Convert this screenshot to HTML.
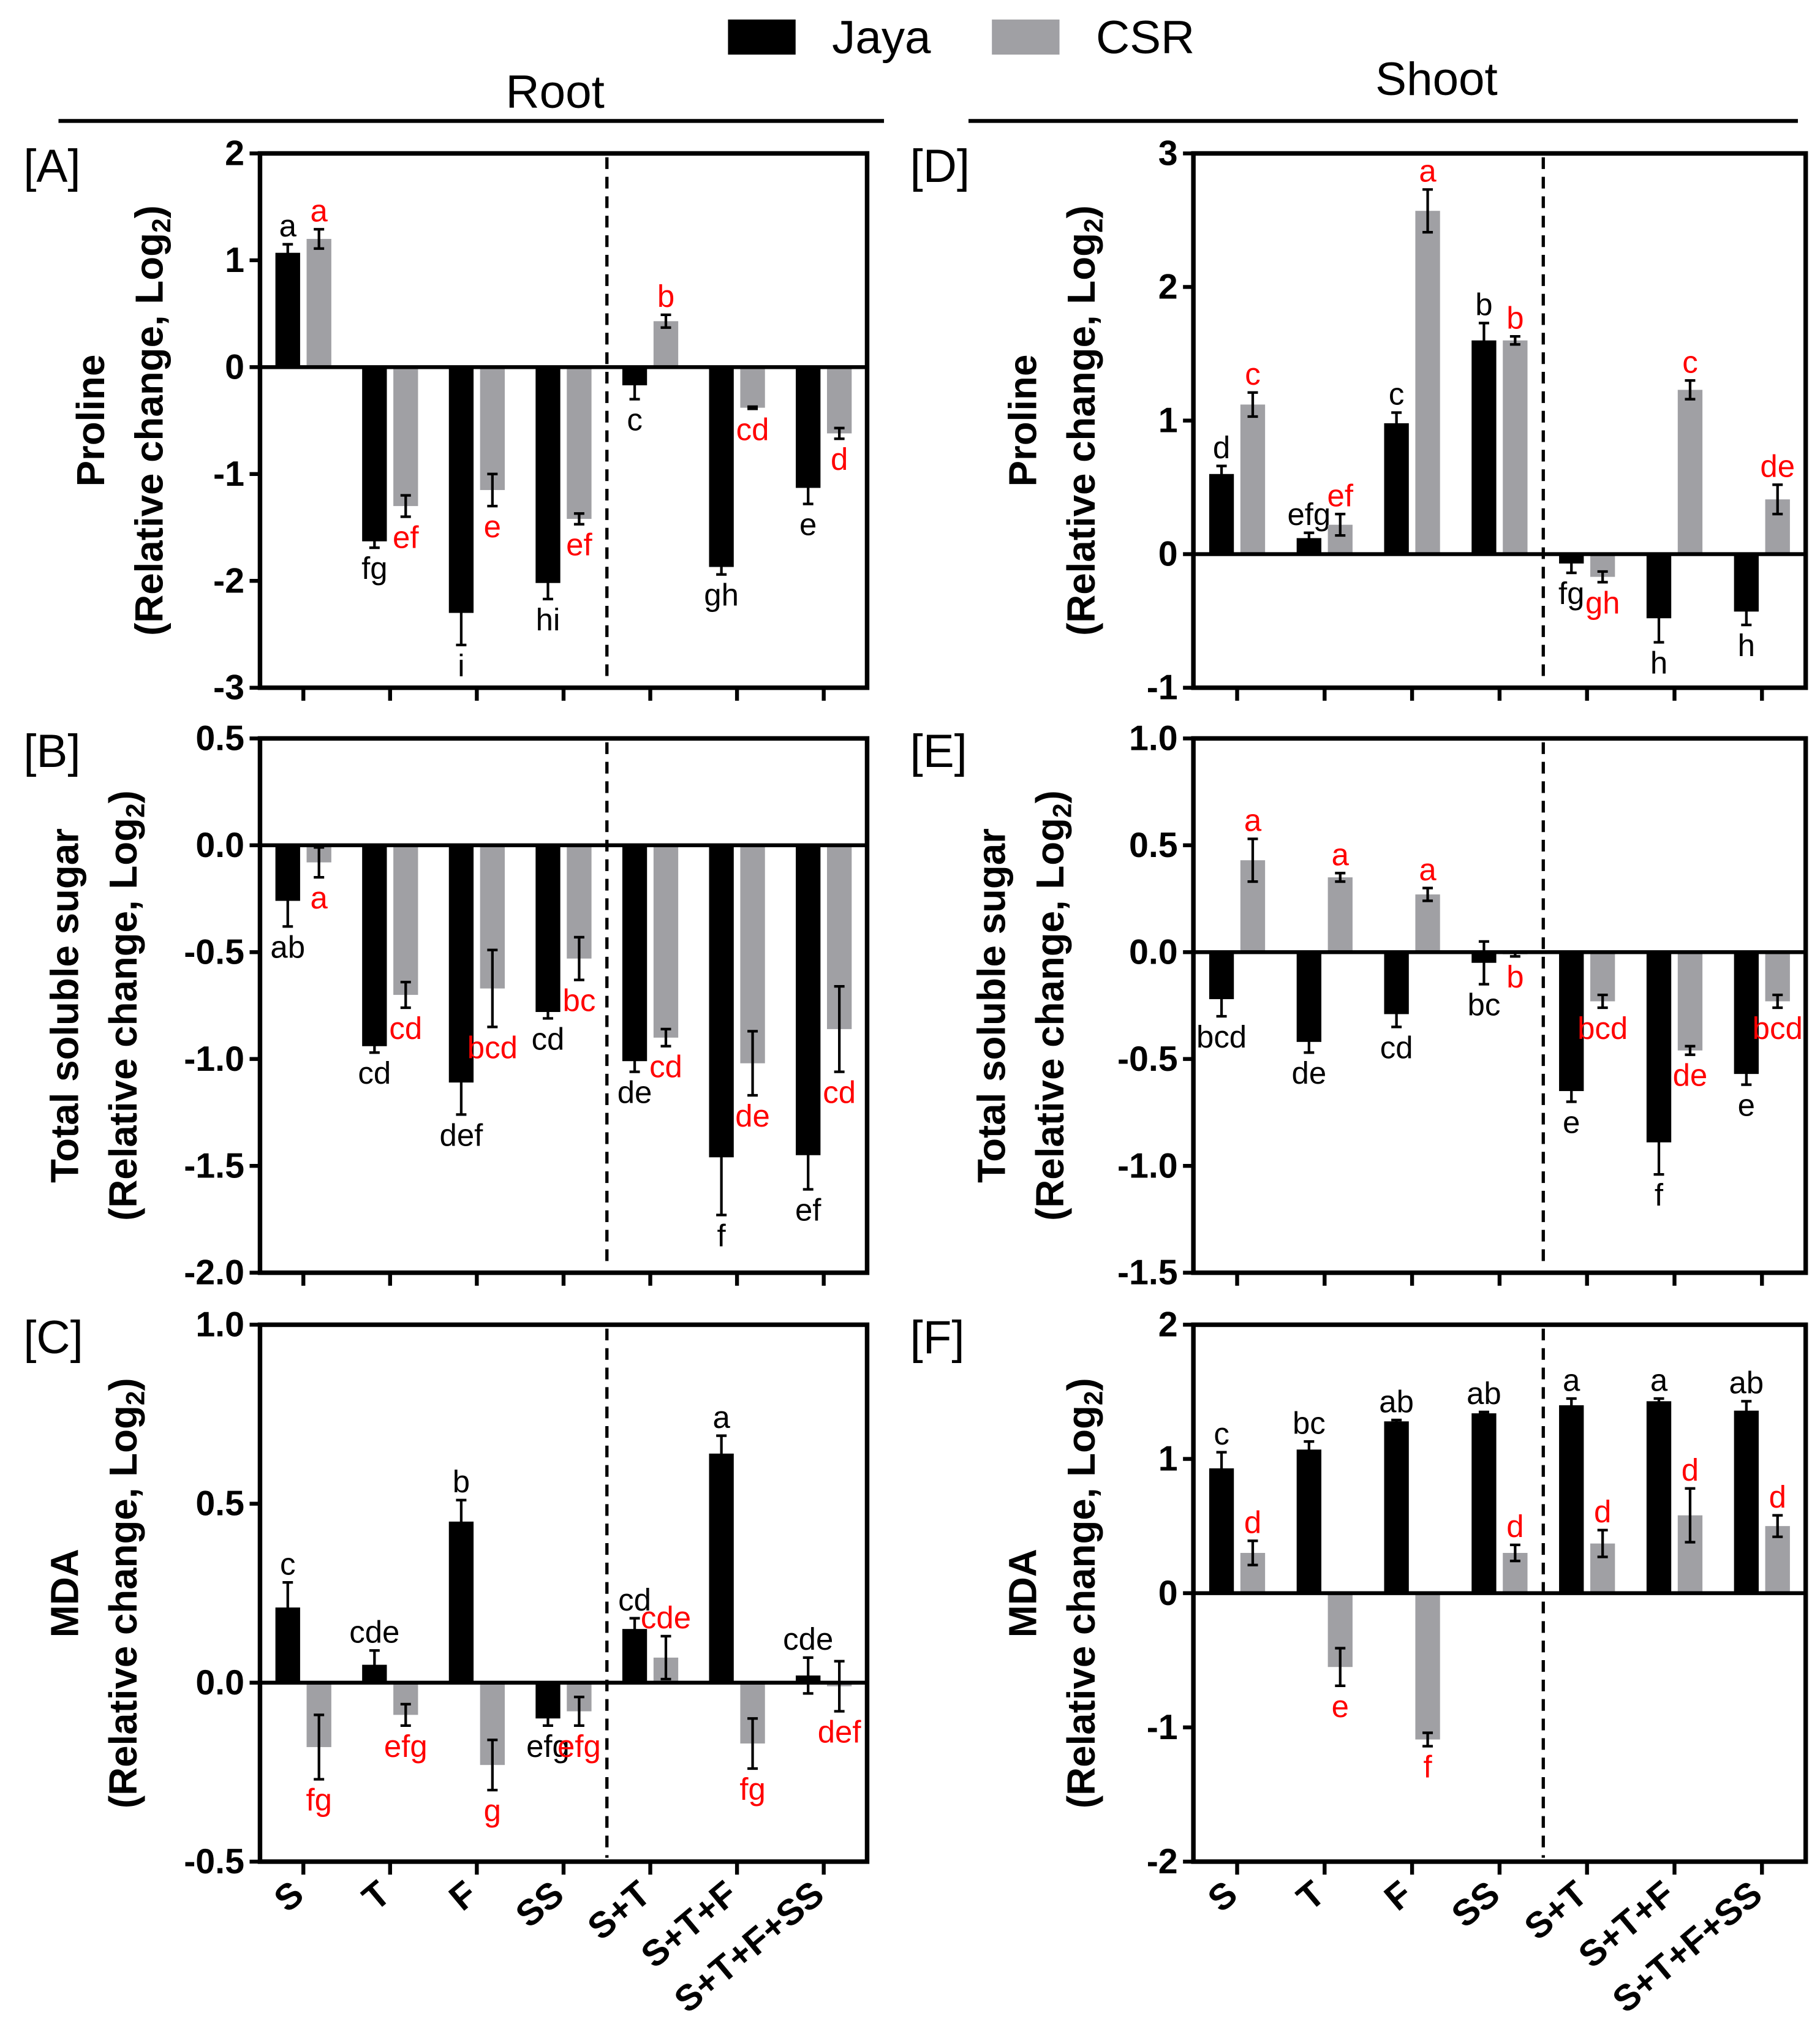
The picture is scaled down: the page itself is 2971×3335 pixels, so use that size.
<!DOCTYPE html>
<html><head><meta charset="utf-8"><style>
html,body{margin:0;padding:0;background:#fff;}
svg{display:block;}
text{font-family:"Liberation Sans",Arial,sans-serif;}
</style></head><body>
<svg id="chart" width="2971" height="3335" viewBox="0 0 1400 1571.5" xmlns="http://www.w3.org/2000/svg">
<g>
<rect x="560" y="15" width="52" height="27" fill="#000"/>
<text x="640" y="41" font-size="36">Jaya</text>
<rect x="763" y="15" width="52" height="27" fill="#a0a0a4"/>
<text x="843" y="41" font-size="36">CSR</text>
</g>
<text x="427" y="83" font-size="36" text-anchor="middle">Root</text>
<line x1="45" y1="93" x2="680" y2="93" stroke="#000" stroke-width="3"/>
<text x="1105" y="73" font-size="36" text-anchor="middle">Shoot</text>
<line x1="745" y1="93" x2="1383" y2="93" stroke="#000" stroke-width="3"/>
</svg>
<script>
const categories=["S","T","F","SS","S+T","S+T+F","S+T+F+SS"];
// Panel A - Root proline
const aJaya=[1.07,-1.63,-2.3,-2.02,-0.17,-1.87,-1.13];
const aJayaErr=[0.08,0.06,0.3,0.15,0.13,0.07,0.15];
const aCsr=[1.2,-1.3,-1.15,-1.42,0.43,-0.38,-0.62];
const aCsrErr=[0.09,0.1,0.15,0.05,0.06,0.01,0.05];
const aJayaLbl=["a","fg","i","hi","c","gh","e"];
const aCsrLbl=["a","ef","e","ef","b","cd","d"];
const aTicks=[2,1,0,-1,-2,-3];
const aTickLbl=["2","1","0","-1","-2","-3"];
// Panel B - Root sugar
const bJaya=[-0.26,-0.94,-1.11,-0.78,-1.01,-1.46,-1.45];
const bJayaErr=[0.12,0.03,0.15,0.03,0.05,0.27,0.16];
const bCsr=[-0.08,-0.7,-0.67,-0.53,-0.9,-1.02,-0.86];
const bCsrErr=[0.07,0.06,0.18,0.1,0.04,0.15,0.2];
const bJayaLbl=["ab","cd","def","cd","de","f","ef"];
const bCsrLbl=["a","cd","bcd","bc","cd","de","cd"];
const bTicks=[0.5,0,-0.5,-1,-1.5,-2];
const bTickLbl=["0.5","0.0","-0.5","-1.0","-1.5","-2.0"];
// Panel C - Root MDA
const cJaya=[0.21,0.05,0.45,-0.1,0.15,0.64,0.02];
const cJayaErr=[0.07,0.04,0.06,0.02,0.03,0.05,0.05];
const cCsr=[-0.18,-0.09,-0.23,-0.08,0.07,-0.17,-0.01];
const cCsrErr=[0.09,0.03,0.07,0.04,0.06,0.07,0.07];
const cJayaLbl=["c","cde","b","efg","cd","a","cde"];
const cCsrLbl=["fg","efg","g","efg","cde","fg","def"];
const cTicks=[1,0.5,0,-0.5];
const cTickLbl=["1.0","0.5","0.0","-0.5"];
// Panel D - Shoot proline
const dJaya=[0.6,0.12,0.98,1.6,-0.07,-0.48,-0.43];
const dJayaErr=[0.06,0.04,0.08,0.13,0.07,0.18,0.1];
const dCsr=[1.12,0.22,2.57,1.6,-0.17,1.23,0.41];
const dCsrErr=[0.09,0.08,0.16,0.03,0.04,0.07,0.11];
const dJayaLbl=["d","efg","c","b","fg","h","h"];
const dCsrLbl=["c","ef","a","b","gh","c","de"];
const dTicks=[3,2,1,0,-1];
const dTickLbl=["3","2","1","0","-1"];
// Panel E - Shoot sugar
const eJaya=[-0.22,-0.42,-0.29,-0.05,-0.65,-0.89,-0.57];
const eJayaErr=[0.08,0.05,0.06,0.1,0.05,0.15,0.05];
const eCsr=[0.43,0.35,0.27,-0.01,-0.23,-0.46,-0.23];
const eCsrErr=[0.1,0.02,0.03,0.01,0.03,0.02,0.03];
const eJayaLbl=["bcd","de","cd","bc","e","f","e"];
const eCsrLbl=["a","a","a","b","bcd","de","bcd"];
const eTicks=[1,0.5,0,-0.5,-1,-1.5];
const eTickLbl=["1.0","0.5","0.0","-0.5","-1.0","-1.5"];
// Panel F - Shoot MDA
const fJaya=[0.93,1.07,1.28,1.34,1.4,1.43,1.36];
const fJayaErr=[0.12,0.06,0.01,0.01,0.05,0.02,0.07];
const fCsr=[0.3,-0.55,-1.09,0.3,0.37,0.58,0.5];
const fCsrErr=[0.09,0.14,0.05,0.06,0.1,0.2,0.08];
const fJayaLbl=["c","bc","ab","ab","a","a","ab"];
const fCsrLbl=["d","e","f","d","d","d","d"];
const fTicks=[2,1,0,-1,-2];
const fTickLbl=["2","1","0","-1","-2"];

const NS="http://www.w3.org/2000/svg";
const svg=document.getElementById('chart');
function mk(tag,attrs,parent){const e=document.createElementNS(NS,tag);for(const k in attrs)e.setAttribute(k,attrs[k]);(parent||svg).appendChild(e);return e;}

const panels=[
 {id:"a",tag:"[A]",x0:200,x1:667,y0:118,y1:529,max:2,min:-3,J:aJaya,JE:aJayaErr,C:aCsr,CE:aCsrErr,JL:aJayaLbl,CL:aCsrLbl,T:aTicks,TL:aTickLbl,t1:"Proline",tx:70,xl:false},
 {id:"b",tag:"[B]",x0:200,x1:667,y0:568,y1:979,max:0.5,min:-2,J:bJaya,JE:bJayaErr,C:bCsr,CE:bCsrErr,JL:bJayaLbl,CL:bCsrLbl,T:bTicks,TL:bTickLbl,t1:"Total soluble sugar",tx:50,xl:false},
 {id:"c",tag:"[C]",x0:200,x1:667,y0:1019,y1:1432,max:1,min:-0.5,J:cJaya,JE:cJayaErr,C:cCsr,CE:cCsrErr,JL:cJayaLbl,CL:cCsrLbl,T:cTicks,TL:cTickLbl,t1:"MDA",tx:50,xl:true},
 {id:"d",tag:"[D]",x0:918,x1:1389,y0:118,y1:529,max:3,min:-1,J:dJaya,JE:dJayaErr,C:dCsr,CE:dCsrErr,JL:dJayaLbl,CL:dCsrLbl,T:dTicks,TL:dTickLbl,t1:"Proline",tx:787,xl:false},
 {id:"e",tag:"[E]",x0:918,x1:1389,y0:568,y1:979,max:1,min:-1.5,J:eJaya,JE:eJayaErr,C:eCsr,CE:eCsrErr,JL:eJayaLbl,CL:eCsrLbl,T:eTicks,TL:eTickLbl,t1:"Total soluble sugar",tx:763,xl:false},
 {id:"f",tag:"[F]",x0:918,x1:1389,y0:1019,y1:1432,max:2,min:-2,J:fJaya,JE:fJayaErr,C:fCsr,CE:fCsrErr,JL:fJayaLbl,CL:fCsrLbl,T:fTicks,TL:fTickLbl,t1:"MDA",tx:787,xl:true}
];

panels.forEach(p=>{
 const g=mk('g',{});
 
 
 const y=v=>p.y0+(p.max-v)/(p.max-p.min)*(p.y1-p.y0);
 const gw=(p.x1-p.x0)/categories.length;
 const cx=i=>p.x0+gw*(i+0.5);
 const lab=mk('text',{x:(p.x0<600?18:700),y:p.y0+22,'font-size':36},g);
 lab.textContent=p.tag;
 
 
 const tt=mk('text',{transform:`translate(${p.tx},${(p.y0+p.y1)/2}) rotate(-90)`,'font-size':30,'font-weight':'bold','text-anchor':'middle'},g);
 
 
 const s1=mk('tspan',{x:0,y:10},tt);s1.textContent=p.t1;
 const s2=mk('tspan',{x:0,y:55},tt);s2.textContent="(Relative change, Log";
 const s3=mk('tspan',{'font-size':20,dy:6},tt);s3.textContent="2";
 const s4=mk('tspan',{dy:-6},tt);s4.textContent=")";
 p.T.forEach((t,k)=>{
  const l=mk('line',{x1:p.x0-8,x2:p.x0,y1:y(t),y2:y(t),stroke:'#000','stroke-width':3},g);
  
  
  const tx=mk('text',{x:p.x0-12,y:y(t)+9,'font-size':27,'font-weight':'bold','text-anchor':'end'},g);
  tx.textContent=p.TL[k];
  
  
 });
 const bw=19;
 const series=[{v:p.J,e:p.JE,l:p.JL,off:-12,fill:'#000',lc:'#000',n:'jaya'},{v:p.C,e:p.CE,l:p.CL,off:12,fill:'#a0a0a4',lc:'#ff0000',n:'csr'}];
 series.forEach(s=>{
  s.v.forEach((v,i)=>{
   const x=cx(i)+s.off;
   const r=mk('rect',{x:x-bw/2,y:Math.min(y(v),y(0)),width:bw,height:Math.abs(y(v)-y(0)),fill:s.fill},g);
   
   
   const ya=y(v+s.e[i]),yb=y(v-s.e[i]);
   const eb=mk('path',{d:`M${x},${ya}V${yb}M${x-4},${ya}H${x+4}M${x-4},${yb}H${x+4}`,stroke:'#000','stroke-width':2,fill:'none'},g);
   
   
   const ly=v>=0?y(v+s.e[i])-6:y(v-s.e[i])+24;
   const lt=mk('text',{x:x,y:ly,'font-size':24,fill:s.lc,'text-anchor':'middle'},g);
   lt.textContent=s.l[i];
   
   
  });
 });
 const z=mk('line',{x1:p.x0,x2:p.x1,y1:y(0),y2:y(0),stroke:'#000','stroke-width':3},g);
 
 
 const dx=p.x0+gw*4;
 const dl=mk('line',{x1:dx,x2:dx,y1:p.y0+3,y2:p.y1-3,stroke:'#000','stroke-width':2.5,'stroke-dasharray':'9 6'},g);
 
 
 const fr=mk('rect',{x:p.x0,y:p.y0,width:p.x1-p.x0,height:p.y1-p.y0,fill:'none',stroke:'#000','stroke-width':3.5},g);
 
 
 categories.forEach((c,i)=>{
  const tk=mk('line',{x1:cx(i),x2:cx(i),y1:p.y1,y2:p.y1+10,stroke:'#000','stroke-width':3},g);
  
  
  if(p.xl){
   const xt=mk('text',{transform:`translate(${cx(i)+2},${p.y1+28}) rotate(-40)`,'font-size':28,'font-weight':'bold','text-anchor':'end'},g);
   xt.textContent=c;
   
   
  }
 });
});
</script>
</body></html>
